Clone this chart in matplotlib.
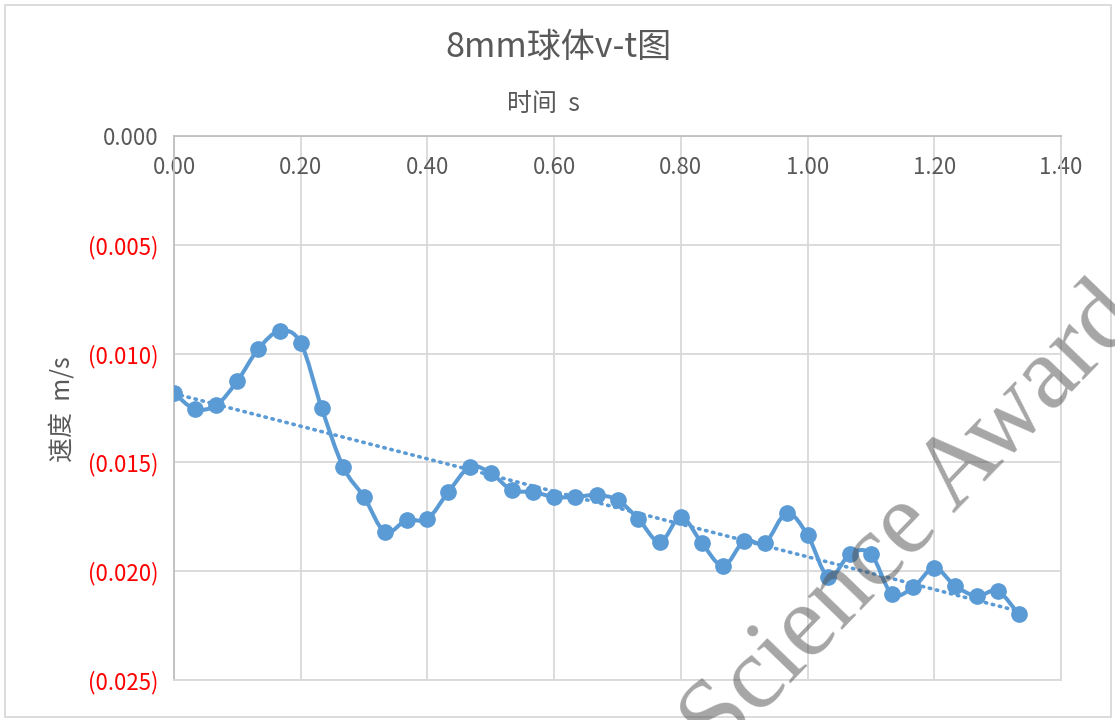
import matplotlib
matplotlib.use("Agg")
import matplotlib.pyplot as plt
from matplotlib.path import Path
from matplotlib.patches import PathPatch, Rectangle
import numpy as np

plt.rcParams['font.family'] = ['Noto Sans CJK SC', 'DejaVu Sans']

# time (s) and velocity (m/s) of the 8 mm ball
t = [0.000, 0.033, 0.067, 0.100, 0.133, 0.167, 0.200, 0.233, 0.267, 0.300,
     0.333, 0.367, 0.400, 0.433, 0.467, 0.500, 0.533, 0.567, 0.600, 0.633,
     0.667, 0.700, 0.733, 0.767, 0.800, 0.833, 0.867, 0.900, 0.933, 0.967,
     1.000, 1.033, 1.067, 1.100, 1.133, 1.167, 1.200, 1.233, 1.267, 1.300,
     1.333]
v = [-0.01181, -0.01255, -0.01236, -0.01126, -0.00979, -0.00896, -0.00951,
     -0.01250, -0.01521, -0.01659, -0.01820, -0.01765, -0.01760, -0.01636,
     -0.01521, -0.01549, -0.01627, -0.01636, -0.01659, -0.01659, -0.01650,
     -0.01673, -0.01760, -0.01866, -0.01751, -0.01870, -0.01976, -0.01861,
     -0.01870, -0.01733, -0.01834, -0.02027, -0.01921, -0.01921, -0.02105,
     -0.02073, -0.01985, -0.02068, -0.02114, -0.02091, -0.02197]

x_ticks = [0.0, 0.2, 0.4, 0.6, 0.8, 1.0, 1.2, 1.4]
y_ticks = [0.0, -0.005, -0.010, -0.015, -0.020, -0.025]

title = "8mm球体v-t图"
x_title = "时间  s"
y_title = "速度  m/s"
watermark = "Science Award"

BLUE = "#5B9BD5"
GREY_TXT = "#595959"
GRID = "#D9D9D9"


def smooth_path(xs, ys):
    # cubic bezier through every point (Catmull-Rom style control points)
    p = np.column_stack([xs, ys])
    n = len(p)
    verts = [p[0]]
    codes = [Path.MOVETO]
    for i in range(n - 1):
        p0 = p[i - 1] if i > 0 else p[i]
        p3 = p[i + 2] if i + 2 < n else p[i + 1]
        c1 = p[i] + (p[i + 1] - p0) / 6.0
        c2 = p[i + 1] - (p3 - p[i]) / 6.0
        verts += [c1, c2, p[i + 1]]
        codes += [Path.CURVE4] * 3
    return Path(verts, codes)


fig = plt.figure(figsize=(11.15, 7.2), dpi=100)
ax = fig.add_axes([174 / 1115, 1 - 680 / 720, (1061 - 174) / 1115, (680 - 136) / 720])

ax.set_xlim(0, 1.4)
ax.set_ylim(-0.025, 0.0)

# gridlines and frame
ax.grid(True, color=GRID, linewidth=1.3)
ax.set_axisbelow(True)
for side in ["right", "bottom"]:
    ax.spines[side].set_color(GRID)
    ax.spines[side].set_linewidth(1.3)
for side in ["left", "top"]:
    ax.spines[side].set_color("#BFBFBF")
    ax.spines[side].set_linewidth(1.3)

# x axis sits on v = 0 at the top, labels hang below it
ax.set_xticks(x_ticks, ["%.2f" % x for x in x_ticks])
ax.tick_params(axis="x", top=True, labeltop=True, bottom=False, labelbottom=False,
               length=0, pad=-31, labelsize=16, labelcolor=GREY_TXT)

ylabels = ["%.3f" % y if y == 0 else "(%.3f)" % abs(y) for y in y_ticks]
ax.set_yticks(y_ticks, ylabels)
ax.tick_params(axis="y", length=0, pad=11, labelsize=16)
for lab, y in zip(ax.get_yticklabels(), y_ticks):
    lab.set_color(GREY_TXT if y == 0 else "#FF0000")

# linear trendline
k, b = np.polyfit(t, v, 1)
ax.plot([t[0], t[-1]], [k * t[0] + b, k * t[-1] + b], color=BLUE, linewidth=2.6,
        linestyle=(0, (0.4, 1.6)), dash_capstyle="round", zorder=2)

# smoothed data line with markers
ax.add_patch(PathPatch(smooth_path(t, v), facecolor="none", edgecolor=BLUE,
                       linewidth=2.9, zorder=3))
ax.plot(t, v, linestyle="none", marker="o", markersize=11, color=BLUE, zorder=4)

fig.text(558 / 1115, 1 - 47 / 720, title, ha="center", va="center",
         fontsize=24.5, color=GREY_TXT)
fig.text(543 / 1115, 1 - 104 / 720, x_title, ha="center", va="center",
         fontsize=18, color=GREY_TXT)
fig.text(63 / 1115, 1 - 409 / 720, y_title, ha="center", va="center",
         rotation=90, fontsize=18, color=GREY_TXT)

# outer chart border
fig.patches.append(Rectangle((5 / 1115, 3 / 720), 1106 / 1115, 712 / 720,
                             transform=fig.transFigure, fill=False,
                             edgecolor=GRID, linewidth=1.3))

fig.text(912 / 1115, 1 - 522 / 720, watermark, ha="center", va="center",
         rotation=46, rotation_mode="anchor", fontsize=74,
         family="Liberation Serif", color="#4D4D4D", alpha=0.5, zorder=10)

fig.savefig("out.png", dpi=100)
